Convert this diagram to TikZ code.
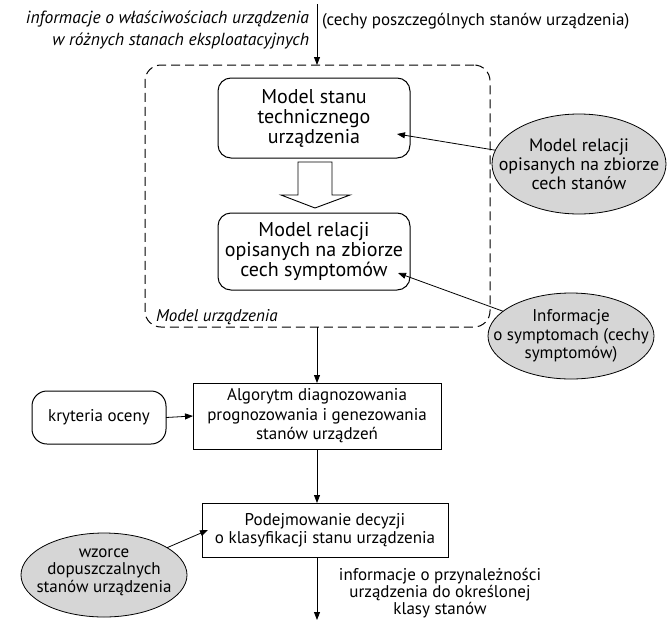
\documentclass[tikz,border=0pt]{standalone}
\usepackage{fontspec}
\setmainfont{PT Sans}
\usetikzlibrary{shapes.geometric,arrows.meta}
\begin{document}
\begin{tikzpicture}[x=1pt,y=-1pt,
  every node/.style={inner sep=0pt,outer sep=0pt,font=\fontsize{17}{19.5}\selectfont},
  bigtxt/.style={font=\fontsize{20}{20}\selectfont},
  rbox/.style={draw,line width=1pt,rounded corners=13pt,align=center},
  sbox/.style={draw,line width=1pt,align=center},
  ell/.style={ellipse,draw,line width=0.8pt,fill=gray!32},
  arr/.style={line width=0.8pt,-{Triangle[length=8pt,width=6pt]}},
  lbl/.style={align=center}]
\useasboundingbox (0,0) rectangle (668,621);
% container
\node[draw,line width=1pt,dash pattern=on 9pt off 5pt,rounded corners=16pt,
      minimum width=345pt,minimum height=262pt] (model) at (317.5,196) {};
\node[anchor=base west,font=\fontsize{17}{19}\selectfont\itshape] (mlabel) at (156,321) {Model urządzenia};
% boxes
\node[rbox,bigtxt,minimum width=192pt,minimum height=80pt] (b1) at (314,118) {Model stanu\\technicznego\\urządzenia};
\node[rbox,bigtxt,minimum width=192pt,minimum height=77pt] (b2) at (314,251.5) {Model relacji\\opisanych na zbiorze\\cech symptomów};
\draw[line width=0.9pt,fill=white] (298,162) -- (332,162) -- (332,195) -- (350,195) -- (315,208) -- (281,195) -- (298,195) -- cycle;
\node[sbox,minimum width=248pt,minimum height=66pt] (algo) at (317,416) {Algorytm diagnozowania\\prognozowania i genezowania\\stanów urządzeń};
\node[rbox,rounded corners=15pt,minimum width=134pt,minimum height=53pt] (kryt) at (99,417.5) {kryteria oceny};
\node[sbox,minimum width=246pt,minimum height=54pt,font=\fontsize{17}{18}\selectfont] (dec) at (325,530) {Podejmowanie decyzji\\o klasyfikacji stanu urządzenia};
% ellipses
\node[ell,minimum width=174pt,minimum height=100pt] (e1) at (579,164) {};
\node[lbl,font=\fontsize{18}{19}\selectfont] (e1t) at (e1) {Model relacji\\opisanych na zbiorze\\cech stanów};
\node[ell,minimum width=166pt,minimum height=86pt] (e2) at (571,336) {};
\node[lbl,font=\fontsize{17}{18.5}\selectfont] (e2t) at (e2) {Informacje\\o symptomach (cechy\\symptomów)};
\node[ell,minimum width=166pt,minimum height=84pt] (e3) at (104,575) {};
\node[lbl,font=\fontsize{17}{17.5}\selectfont] (e3t) at (104,572) {wzorce\\dopuszczalnych\\stanów urządzenia};
% texts
\node[anchor=north east,align=right,font=\fontsize{17.5}{22}\selectfont\itshape] (toptxt) at (309,11) {informacje o właściwościach urządzenia\\w różnych stanach eksploatacyjnych};
\node[anchor=west] (cechy) at (322,21) {(cechy poszczególnych stanów urządzenia)};
\node[lbl,font=\fontsize{17}{17}\selectfont] (bot) at (440,593) {informacje o przynależności\\urządzenia do określonej\\klasy stanów};
% coordinates
\coordinate (top) at (317,4);
\coordinate (mtop) at (317,65);
\coordinate (mbot) at (317,327);
\coordinate (end) at (317,620);
\coordinate (t1) at (397,134);
\coordinate (t2) at (398,273);
\coordinate (t3) at (208,530);
% connectors
\draw[arr] (top) -- (mtop);
\draw[arr] (mbot) -- (algo.north -| mbot);
\draw[arr] (algo.south -| mbot) -- (dec.north -| mbot);
\draw[arr] (dec.south -| mbot) -- (end);
\draw[arr] (kryt.east) -- (algo.west);
\draw[arr] (e1) -- (t1);
\draw[arr] (e2) -- (t2);
\draw[arr] (e3) -- (t3);
\end{tikzpicture}
\end{document}
